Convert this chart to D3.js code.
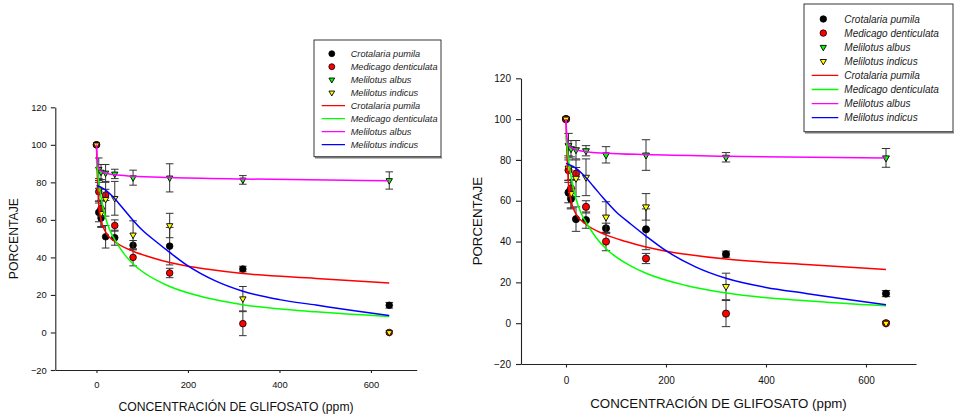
<!DOCTYPE html>
<html>
<head>
<meta charset="utf-8">
<script src="https://cdn.jsdelivr.net/npm/d3@7"></script>
<style>
  body { margin: 0; background: #fff; }
  svg { display: block; }
</style>
</head>
<body>
<svg id="chart" width="955" height="419"></svg>
<script>
// glyphosate concentrations (ppm)
let conc = [0, 5, 10, 20, 40, 80, 160, 320, 640];

// observed percentages and errors
let crotalaria = [100, 64, 61, 51, 50.5, 46.5, 46, 33.8, 14.5];
let crotalariaErr = [0, 5, 5, 6, 4, 2.5, 10, 1.5, 1.5];
let medicago = [100, 75, 66, 73.3, 57, 40, 31.7, 4.7, 0];
let medicagoErr = [0, 5, 4, 3, 3, 4.5, 2.5, 6.4, 0];
let albus = [100, 87, 85.5, 85, 84.5, 82.5, 82.4, 81.3, 81];
let albusErr = [0, 6, 4, 4.5, 2.5, 4, 7.5, 2.3, 4.6];
let indicus = [100, 76, 63.5, 71, 71.5, 52, 57, 18, 0];
let indicusErr = [0, 6, 7, 9, 9, 7.5, 6.5, 6.5, 0];

// fitted curves
let fitCrotalariaX = [0, 1, 2.5, 5, 10, 20, 40, 80, 120, 160, 200, 240, 320, 480, 640];
let fitCrotalariaY = [100, 90, 80, 68, 60, 53.5, 48.5, 43.3, 40, 37.3, 35.3, 33.8, 31.4, 28.8, 26.3];
let fitMedicagoX = [0, 5, 10, 20, 30, 45, 60, 80, 100, 130, 160, 240, 320, 480, 640];
let fitMedicagoY = [92, 80, 72, 61, 54, 47.5, 42, 36.5, 32.5, 28, 24.5, 18.5, 14.8, 11, 8.5];
let fitAlbusX = [0, 1, 2.5, 5, 10, 20, 40, 80, 160, 320, 640];
let fitAlbusY = [100, 94, 90, 87.5, 86, 85, 84, 83.3, 82.6, 81.8, 80.9];
let fitIndicusX = [0, 15, 35, 55, 75, 100, 130, 160, 200, 260, 320, 400, 480, 560, 640];
let fitIndicusY = [78.3, 76.7, 72.6, 67, 61.2, 54.6, 48.5, 42.7, 35.5, 27.5, 22, 17.5, 14.6, 11.7, 9];

let xTicks = [0, 200, 400, 600];
let yTicks = [-20, 0, 20, 40, 60, 80, 100, 120];
let speciesNames = ["Crotalaria pumila", "Medicago denticulata", "Melilotus albus", "Melilotus indicus"];

let scatter = [
    { values: crotalaria, err: crotalariaErr, fill: "#000000", shape: "circle" },
    { values: medicago, err: medicagoErr, fill: "#ff0000", shape: "circle" },
    { values: albus, err: albusErr, fill: "#00ff00", shape: "triangle" },
    { values: indicus, err: indicusErr, fill: "#ffff00", shape: "triangle" }
];
let fits = [
    { xs: fitCrotalariaX, ys: fitCrotalariaY, color: "#ff0000" },
    { xs: fitMedicagoX, ys: fitMedicagoY, color: "#00ff00" },
    { xs: fitAlbusX, ys: fitAlbusY, color: "#ff00ff" },
    { xs: fitIndicusX, ys: fitIndicusY, color: "#0000ff" }
];

const FONT = "'Liberation Sans', Arial, sans-serif";
const svg = d3.select("#chart");

function drawMarker(sel, shape, fill, cx, cy, r) {
    if (shape === "circle") {
        sel.append("circle").attr("cx", cx).attr("cy", cy).attr("r", r)
            .attr("fill", fill).attr("stroke", "#000").attr("stroke-width", 0.8);
    } else {
        sel.append("path")
            .attr("d", d3.symbol(d3.symbolTriangle, r * r * 1.6)())
            .attr("transform", `translate(${cx},${cy}) rotate(180)`)
            .attr("fill", fill).attr("stroke", "#000").attr("stroke-width", 0.9);
    }
}

function drawPanel(p, id) {
    let x = d3.scaleLinear().domain([-90, 700]).range([p.x0, p.x1]);
    let y = d3.scaleLinear().domain([-20, 120]).range([p.yb, p.yt]);
    let g = svg.append("g");

    // x axis
    let xa = g.append("g")
        .attr("transform", `translate(0,${p.yb})`)
        .call(d3.axisBottom(x).tickValues(xTicks).tickSize(p.xtick).tickSizeOuter(0).tickPadding(p.xpad));
    // y axis
    let ya = g.append("g")
        .attr("transform", `translate(${p.x0},0)`)
        .call(d3.axisLeft(y).tickValues(yTicks).tickSize(p.ytick).tickSizeOuter(0).tickPadding(p.ypad));
    [xa, ya].forEach(a => {
        a.attr("font-family", FONT).attr("font-size", p.tickFont);
        a.selectAll("path, line").attr("stroke", "#222").attr("stroke-width", 1.1);
        a.selectAll("text").attr("fill", "#111");
    });

    g.append("text")
        .attr("x", (x(-90) + x(700)) / 2).attr("y", p.titleY)
        .attr("text-anchor", "middle").attr("dominant-baseline", "central")
        .attr("font-family", FONT).attr("font-size", p.titleFont).attr("fill", "#111")
        .text("CONCENTRACIÓN DE GLIFOSATO (ppm)");
    g.append("text")
        .attr("transform", `translate(${p.ylabX},${(p.yb + p.yt) / 2}) rotate(-90)`)
        .attr("text-anchor", "middle").attr("dominant-baseline", "central")
        .attr("font-family", FONT).attr("font-size", p.titleFont).attr("fill", "#111")
        .text("PORCENTAJE");

    // scatter with error bars
    scatter.forEach(s => {
        let sg = g.append("g");
        conc.forEach((c, i) => {
            let e = s.err[i];
            if (e > 0) {
                let cx = x(c), top = y(s.values[i] + e), bot = y(s.values[i] - e);
                sg.append("line").attr("x1", cx).attr("x2", cx).attr("y1", top).attr("y2", bot)
                    .attr("stroke", "#333").attr("stroke-width", 1);
                [top, bot].forEach(yy => {
                    sg.append("line").attr("x1", cx - p.cap).attr("x2", cx + p.cap)
                        .attr("y1", yy).attr("y2", yy).attr("stroke", "#333").attr("stroke-width", 1);
                });
            }
        });
        conc.forEach((c, i) => drawMarker(sg, s.shape, s.fill, x(c), y(s.values[i]), p.r));
    });

    // fitted curves
    let line = d3.line().x(d => x(d[0])).y(d => y(d[1])).curve(d3.curveMonotoneX);
    fits.forEach(f => {
        g.append("path")
            .datum(f.xs.map((v, i) => [v, f.ys[i]]))
            .attr("d", line)
            .attr("fill", "none").attr("stroke", f.color).attr("stroke-width", 1.5);
    });

    // legend
    let lg = g.append("g");
    svg.append("clipPath").attr("id", "clip" + id)
        .append("rect").attr("x", p.lx0).attr("y", p.ly0).attr("width", p.lx1 - p.lx0).attr("height", p.ly1 - p.ly0);
    lg.append("rect").attr("x", p.lx0).attr("y", p.ly0).attr("width", p.lx1 - p.lx0).attr("height", p.ly1 - p.ly0)
        .attr("fill", "#fff").attr("stroke", "#222").attr("stroke-width", 0.9);
    lg.append("line").attr("x1", p.lx0 + 1).attr("x2", p.lx1 + 1).attr("y1", p.ly1 + 1).attr("y2", p.ly1 + 1)
        .attr("stroke", "#777").attr("stroke-width", 1.5);
    let items = lg.append("g").attr("clip-path", `url(#clip${id})`);
    let rows = speciesNames.map((n, i) => ({ name: n, kind: "marker", s: scatter[i] }))
        .concat(speciesNames.map((n, i) => ({ name: n, kind: "line", f: fits[i] })));
    rows.forEach((row, i) => {
        let ry = p.row0 + i * p.rowStep;
        if (row.kind === "marker") {
            drawMarker(items, row.s.shape, row.s.fill, p.symX, ry, p.r * 0.9);
        } else {
            items.append("line").attr("x1", p.lineX0).attr("x2", p.lineX1).attr("y1", ry).attr("y2", ry)
                .attr("stroke", row.f.color).attr("stroke-width", 1.3);
        }
        items.append("text").attr("x", p.textX).attr("y", ry)
            .attr("dominant-baseline", "central")
            .attr("font-family", FONT).attr("font-size", p.legFont).attr("font-style", "italic").attr("fill", "#222")
            .text(row.name);
    });
}

drawPanel({
    x0: 55.3, x1: 416.7, yb: 370, yt: 107.3,
    xtick: 3, xpad: 8, ytick: 4.5, ypad: 4, tickFont: 9.4,
    titleY: 406.7, titleFont: 12.2, ylabX: 13.5,
    r: 3.3, cap: 3.8,
    lx0: 314, lx1: 441, ly0: 40, ly1: 156.7,
    row0: 53.7, rowStep: 13, symX: 331.8, lineX0: 321.7, lineX1: 345, textX: 350.7, legFont: 9.2
}, "L");

drawPanel({
    x0: 521, x1: 916, yb: 364, yt: 78.3,
    xtick: 3.5, xpad: 9.5, ytick: 5, ypad: 5, tickFont: 10,
    titleY: 403, titleFont: 13.3, ylabX: 477,
    r: 3.6, cap: 4.2,
    lx0: 804, lx1: 953, ly0: 4, ly1: 131.7,
    row0: 19, rowStep: 14.1, symX: 823.3, lineX0: 811.7, lineX1: 838.3, textX: 844.3, legFont: 10
}, "R");
</script>
</body>
</html>
